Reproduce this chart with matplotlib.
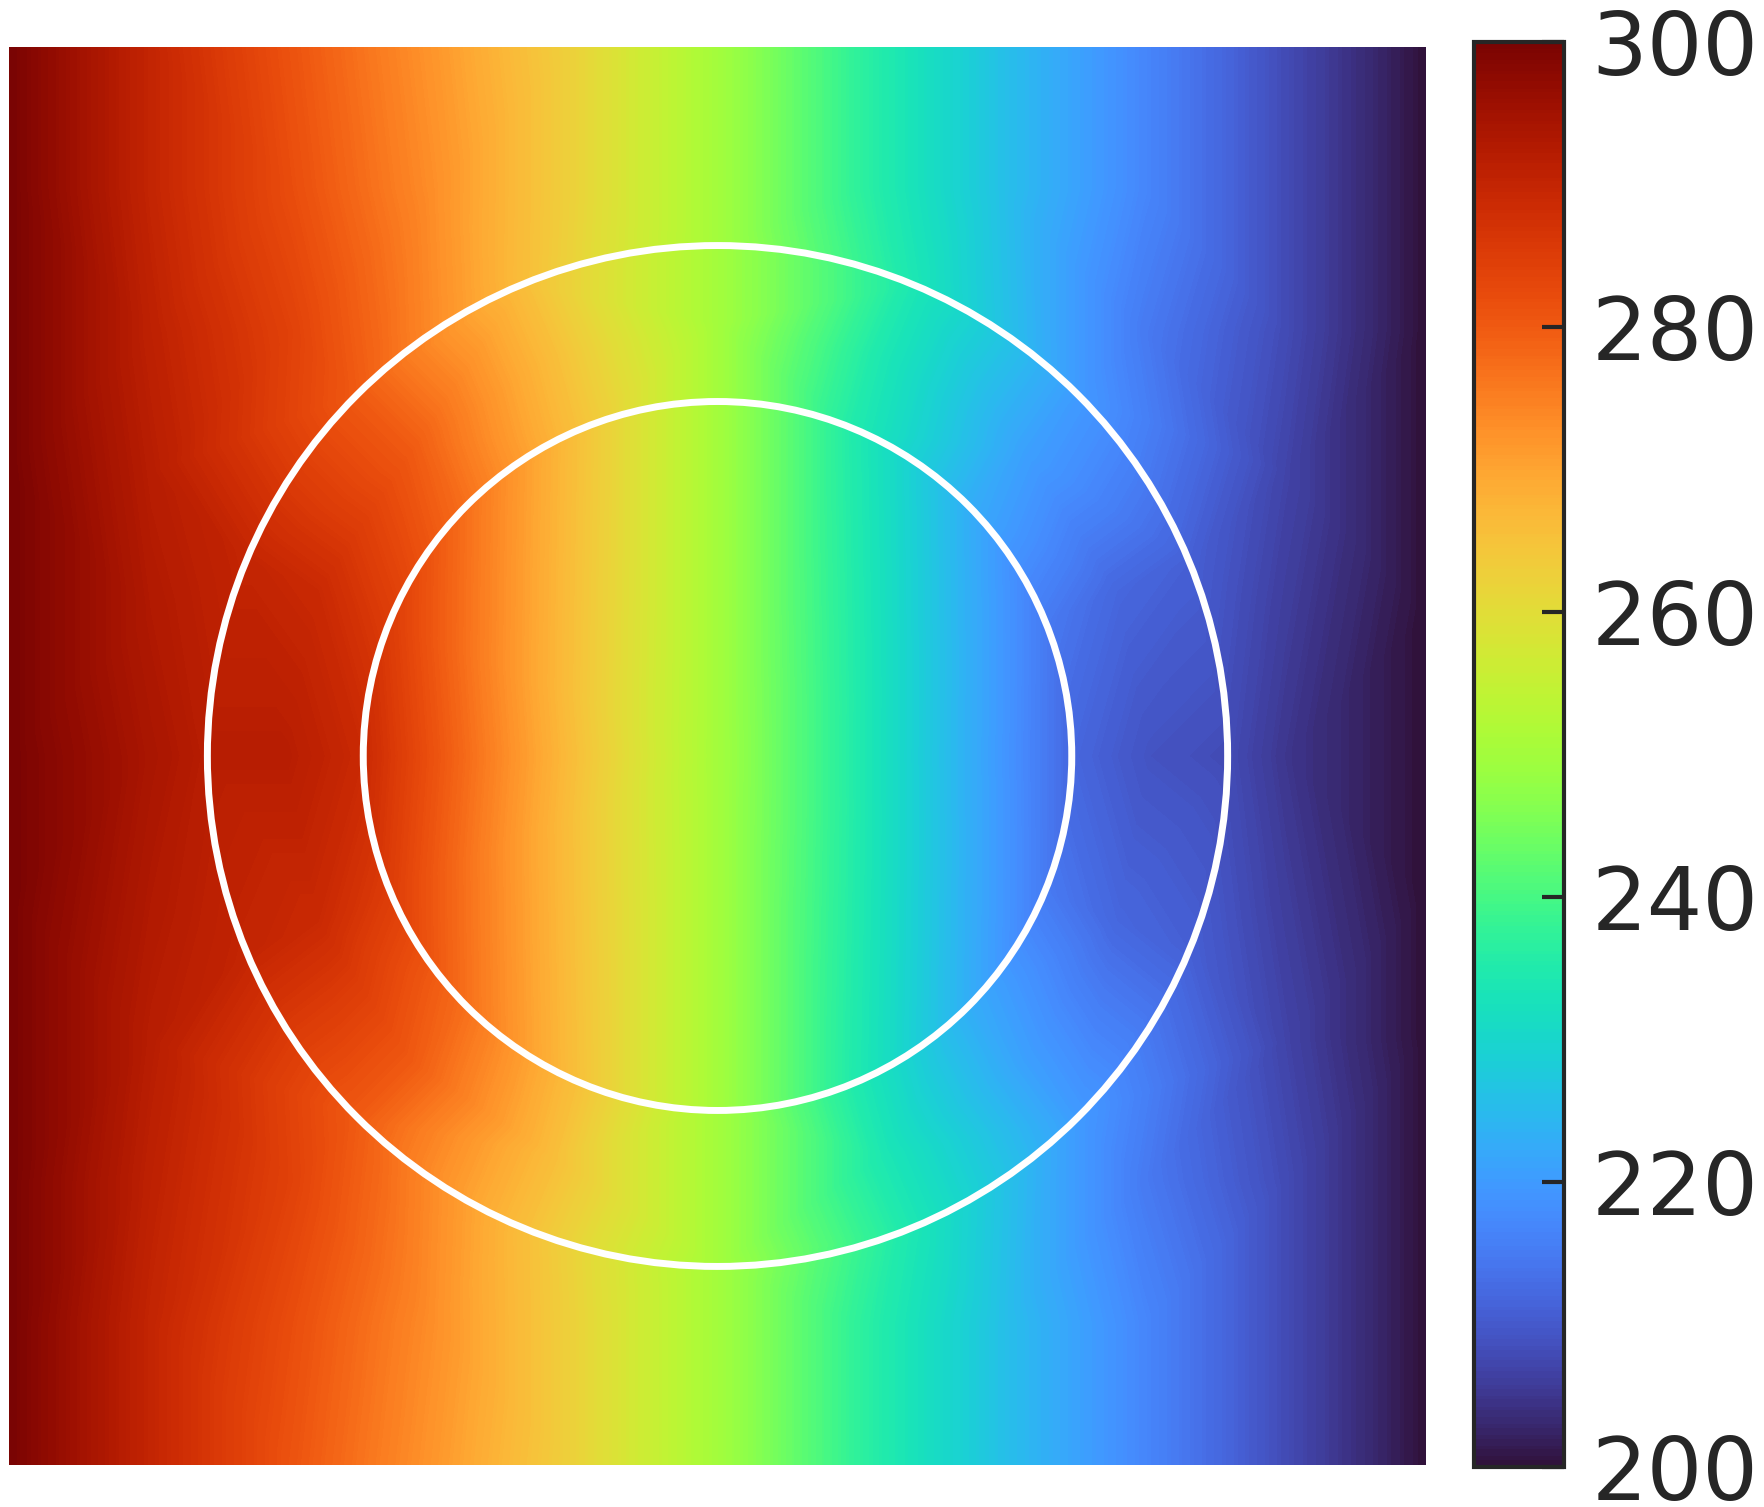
# ================================== IMPORTS ==================================

import numpy as np
import matplotlib
matplotlib.use("Agg")
import matplotlib.pyplot as plt
import matplotlib.tri as mtri
from matplotlib.patches import Circle


# ================================== DADOS ==================================

nan = np.nan

# Grade de fundo (fora do anel), metade de cima: y = 0.0 (topo) ... 0.5 (centro)
grade_x = [0.0, 0.1, 0.2, 0.3, 0.4, 0.5, 0.6, 0.7, 0.8, 0.9, 1.0]
grade_y = [0.0, 0.1, 0.2, 0.3, 0.4, 0.5]
temp_fundo = [
    [300, 290, 281, 272, 262, 250, 237, 226, 217, 208, 200],
    [300, 290, 282, 273, 262, 250, 237, 226, 217, 208, 200],
    [300, 291, 284, nan, nan, nan, nan, nan, 215, 208, 200],
    [300, 292, nan, nan, nan, nan, nan, nan, nan, 207, 200],
    [300, 293, nan, nan, nan, nan, nan, nan, nan, 206, 200],
    [300, 294, nan, nan, nan, nan, nan, nan, nan, 205, 200],
]

# Anel: centro e raios das circunferencias brancas
centro = (0.5, 0.5)
raio_interno = 0.25
raio_medio = 0.305
raio_externo = 0.36

# Temperatura ao longo de cada circunferencia, angulo 0 (direita) a 180 (esquerda)
angulos_graus = [0, 22.5, 45, 67.5, 90, 112.5, 135, 157.5, 180]
temp_raio_interno = [212, 215, 223, 235, 250, 265, 277, 285, 289]
temp_raio_medio = [209, 212, 221, 234, 250, 266, 280, 289, 292]
temp_raio_externo = [208, 211, 220, 234, 250, 266, 280, 290, 292]
temp_centro = 250

ticks_barra = [200, 220, 240, 260, 280, 300]


# ================================== FUNÇÕES ==================================


# Monta os pontos da grade de fundo, espelhando a metade de cima para baixo
def montar_fundo():
    xs, ys, ts = [], [], []
    for i, y in enumerate(grade_y):
        for j, x in enumerate(grade_x):
            t = temp_fundo[i][j]
            if np.isnan(t):
                continue
            xs.append(x)
            ys.append(y)
            ts.append(t)
            if y < 0.5:
                xs.append(x)
                ys.append(1.0 - y)
                ts.append(t)
    return xs, ys, ts


# Monta os pontos sobre uma circunferencia (simetrica em relacao ao centro)
def montar_circulo(raio, temps):
    xs, ys, ts = [], [], []
    for ang, t in zip(angulos_graus, temps):
        a = np.deg2rad(ang)
        xs.append(centro[0] + raio * np.cos(a))
        ys.append(centro[1] + raio * np.sin(a))
        ts.append(t)
        if 0 < ang < 180:
            xs.append(centro[0] + raio * np.cos(a))
            ys.append(centro[1] - raio * np.sin(a))
            ts.append(t)
    return xs, ys, ts


# ================================== GRÁFICO ==================================

xs, ys, ts = montar_fundo()
for raio, temps in [(raio_interno, temp_raio_interno),
                    (raio_medio, temp_raio_medio),
                    (raio_externo, temp_raio_externo)]:
    cx, cy, ct = montar_circulo(raio, temps)
    xs += cx
    ys += cy
    ts += ct
xs.append(centro[0])
ys.append(centro[1])
ts.append(temp_centro)

tri = mtri.Triangulation(np.array(xs), np.array(ys))

fig = plt.figure(figsize=(17.64, 15.07), dpi=100)
ax = fig.add_axes([0.0051, 0.0279, 0.8033, 0.9409])

# Contornos bem finos para parecer um campo continuo
niveis = np.linspace(200, 300, 401)
mapa = ax.tricontourf(tri, np.array(ts, dtype=float), levels=niveis,
                      cmap="turbo", vmin=200, vmax=300, antialiased=False)

for raio in [raio_externo, raio_interno]:
    ax.add_patch(Circle(centro, raio, fill=False, edgecolor="white", linewidth=5))

ax.set_xlim(0, 1)
ax.set_ylim(0, 1)
ax.set_aspect("auto")
ax.axis("off")

cax = fig.add_axes([0.8356, 0.0265, 0.051, 0.9455])
barra = fig.colorbar(mapa, cax=cax, ticks=ticks_barra)
barra.ax.tick_params(direction="in", length=16, width=3, labelsize=63,
                     pad=20, colors="#262626")
barra.outline.set_linewidth(3)
barra.outline.set_edgecolor("#262626")

fig.savefig("out.png", dpi=100)
